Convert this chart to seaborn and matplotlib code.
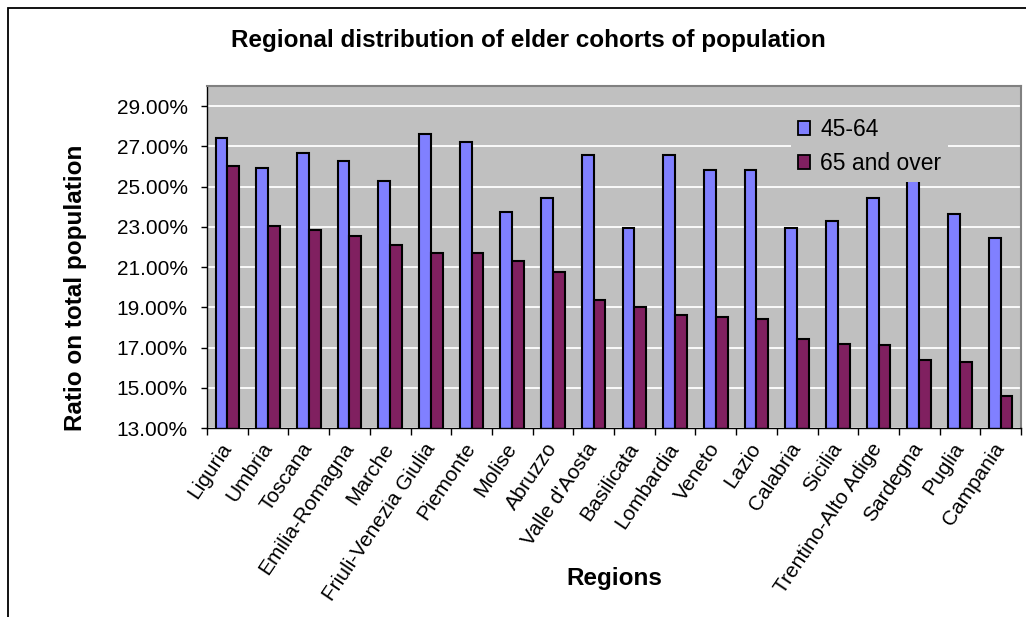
import numpy as np
import pandas as pd
import matplotlib
matplotlib.use("Agg")
import matplotlib.pyplot as plt
from matplotlib.patches import Patch, Rectangle
from matplotlib.ticker import FixedLocator, FuncFormatter
import seaborn as sns

# dati (percentuali)
regions = ["Liguria", "Umbria", "Toscana", "Emilia-Romagna", "Marche",
           "Friuli-Venezia Giulia", "Piemonte", "Molise", "Abruzzo", "Valle d'Aosta",
           "Basilicata", "Lombardia", "Veneto", "Lazio", "Calabria", "Sicilia",
           "Trentino-Alto Adige", "Sardegna", "Puglia", "Campania"]
age_45_64 = [27.40, 25.91, 26.65, 26.29, 25.26, 27.60, 27.22, 23.75, 24.42, 26.57,
             22.92, 26.57, 25.82, 25.82, 22.92, 23.28, 24.43, 26.00, 23.66, 22.45]
age_65_over = [26.01, 23.03, 22.83, 22.55, 22.09, 21.70, 21.68, 21.32, 20.77, 19.38,
               19.00, 18.61, 18.53, 18.43, 17.40, 17.20, 17.12, 16.37, 16.27, 14.61]
series_names = ["45-64", "65 and over"]
y_ticks = [13, 15, 17, 19, 21, 23, 25, 27, 29]

colors = ["#8080FF", "#802060"]

df = pd.DataFrame({
    "region": regions * 2,
    "group": [series_names[0]] * len(regions) + [series_names[1]] * len(regions),
    "value": age_45_64 + age_65_over,
})

sns.set_style("white")
plt.rcParams["font.family"] = ["Liberation Sans", "DejaVu Sans"]
plt.rcParams["text.color"] = "black"
plt.rcParams["axes.labelcolor"] = "black"
plt.rcParams["xtick.color"] = "black"
plt.rcParams["ytick.color"] = "black"

fig = plt.figure(figsize=(10.26, 6.17), dpi=100)
ax = fig.add_axes([207 / 1026, 189 / 617, 814 / 1026, 342 / 617])

sns.barplot(data=df, x="region", y="value", hue="group", order=regions,
            hue_order=series_names, palette=colors, width=0.58, gap=0,
            edgecolor="black", linewidth=1.5, saturation=1, legend=False, ax=ax)

ax.set_facecolor("#C0C0C0")
ax.set_xlim(-0.5, len(regions) - 0.5)
ax.set_ylim(13, 30)
ax.yaxis.set_major_locator(FixedLocator(y_ticks))
ax.yaxis.set_major_formatter(FuncFormatter(lambda v, p: f"{v:.2f}%"))
ax.set_axisbelow(True)
ax.grid(axis="y", color="white", linewidth=1.3)
ax.grid(axis="x", visible=False)

for side in ["left", "bottom"]:
    ax.spines[side].set_color("black")
    ax.spines[side].set_linewidth(1.0)
for side in ["top", "right"]:
    ax.spines[side].set_color("#808080")
    ax.spines[side].set_linewidth(1.5)

ax.tick_params(axis="y", which="major", left=True, length=4, width=1, color="black",
               pad=10, labelsize=15, labelcolor="black")
ax.tick_params(axis="x", which="major", bottom=False, length=0, pad=12, labelsize=15,
               labelcolor="black")
ax.set_xticks(np.arange(len(regions) + 1) - 0.5, minor=True)
ax.tick_params(axis="x", which="minor", bottom=True, length=5, width=1, color="black")
ax.set_xticks(np.arange(len(regions)))
ax.set_xticklabels(regions, rotation=56, ha="right", va="center", rotation_mode="anchor")

ax.set_xlabel("Regions", fontsize=17.5, fontweight="bold", color="black")
ax.xaxis.set_label_coords(0.5, -0.405)
ax.set_ylabel("Ratio on total population", fontsize=17.5, fontweight="bold", color="black")
ax.yaxis.set_label_coords(-0.148, 0.41)

handles = [Patch(facecolor=c, edgecolor="black", linewidth=1.3) for c in colors]
leg = ax.legend(handles, series_names, loc="upper left", bbox_to_anchor=(0.717, 0.927),
                fontsize=16.5, frameon=True, fancybox=False, framealpha=1,
                facecolor="#C0C0C0", edgecolor="none", handlelength=0.55,
                handleheight=0.55, handletextpad=0.45, labelspacing=0.5,
                borderpad=0.3, borderaxespad=0, labelcolor="black")

fig.text(528 / 1026, 1 - 40 / 617, "Regional distribution of elder cohorts of population",
         ha="center", va="center", fontsize=17.5, fontweight="bold", color="black")

# cornice esterna del grafico (tagliata a destra e in basso)
fig.patches.append(Rectangle((8 / 1026, -0.2), 1.2, 1 - 8 / 617 + 0.2,
                             transform=fig.transFigure, fill=False,
                             edgecolor="black", linewidth=1.3))

fig.savefig("out.png", dpi=100)
